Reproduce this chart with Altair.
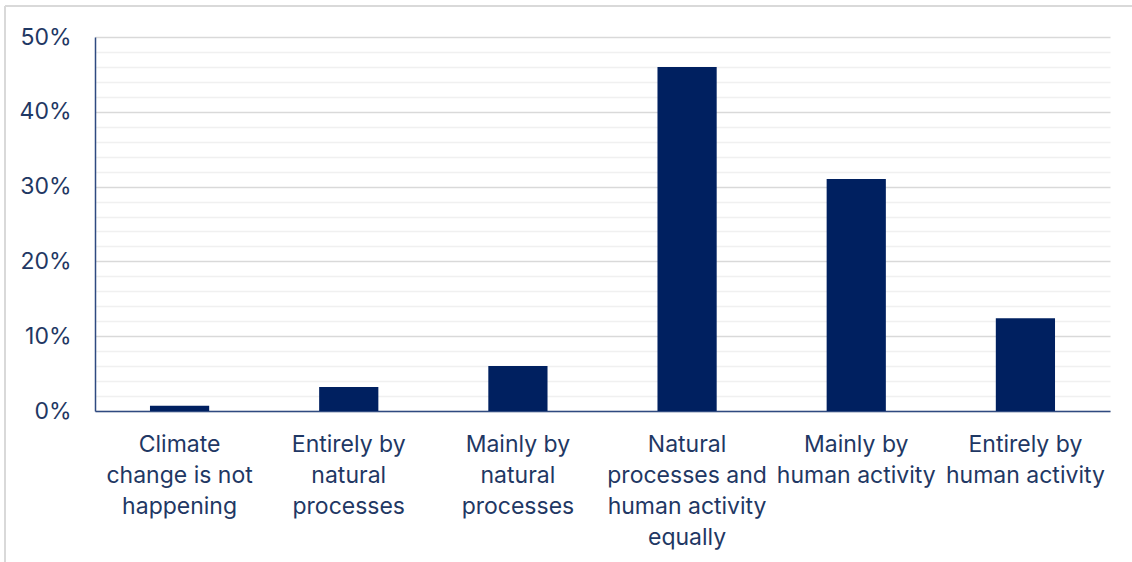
import altair as alt
import pandas as pd
import json

categories = [
    "Climate change is not happening",
    "Entirely by natural processes",
    "Mainly by natural processes",
    "Natural processes and human activity equally",
    "Mainly by human activity",
    "Entirely by human activity",
]
label_lines = [
    ["Climate", "change is not", "happening"],
    ["Entirely by", "natural", "processes"],
    ["Mainly by", "natural", "processes"],
    ["Natural", "processes and", "human activity", "equally"],
    ["Mainly by", "human activity"],
    ["Entirely by", "human activity"],
]
shares = [0.007, 0.032, 0.060, 0.460, 0.310, 0.124]
y_ticks = [i / 100 for i in range(0, 52, 2)]

df = pd.DataFrame({"category": categories, "share": shares})
lookup = json.dumps({c: l for c, l in zip(categories, label_lines)})

TEXT = "#1F3864"
BAR = "#002060"
FONT = "Inter"

bars = alt.Chart(df).mark_bar(color=BAR).encode(
    x=alt.X(
        "category:N",
        sort=categories,
        title=None,
        scale=alt.Scale(paddingInner=0.65, paddingOuter=0.325),
        axis=alt.Axis(
            labelAngle=0,
            labelExpr=f"{lookup}[datum.label]",
            labelLineHeight=31,
            labelPadding=22,
            labelFontSize=23,
            labelColor=TEXT,
            labelFont=FONT,
            ticks=False,
            domainColor="#2F4A80",
            domainWidth=1.5,
            labelLimit=0,
        ),
    ),
    y=alt.Y(
        "share:Q",
        title=None,
        scale=alt.Scale(domain=[0, 0.5], nice=False),
        axis=alt.Axis(
            values=y_ticks,
            labelExpr="round(datum.value*100) % 10 === 0 ? format(datum.value, '.0%') : ''",
            labelFontSize=23,
            labelColor=TEXT,
            labelFont=FONT,
            labelPadding=24,
            ticks=False,
            domainColor="#2F4A80",
            domainWidth=1.5,
            grid=True,
            gridColor=alt.condition(
                "round(datum.value*100) % 10 === 0", alt.value("#D9D9D9"), alt.value("#F0F0F0")
            ),
            gridWidth=1.5,
        ),
    ),
)

frame_top = alt.Chart(df).mark_rule(color="#D9D9D9", strokeWidth=2).encode(
    x=alt.value(-90), x2=alt.value(1040), y=alt.value(-31)
)
frame_left = alt.Chart(df).mark_rule(color="#D9D9D9", strokeWidth=2).encode(
    x=alt.value(-90), y=alt.value(-31), y2=alt.value(600)
)

chart = (
    alt.layer(frame_top, frame_left, bars)
    .properties(
        width=1015,
        height=374,
        autosize=alt.AutoSizeParams(type="none"),
        padding={"left": 95, "top": 37, "right": 22, "bottom": 151},
        background="white",
    )
    .configure_view(stroke=None)
)

chart.save("out.html", embed_options={"renderer": "svg", "actions": False})
